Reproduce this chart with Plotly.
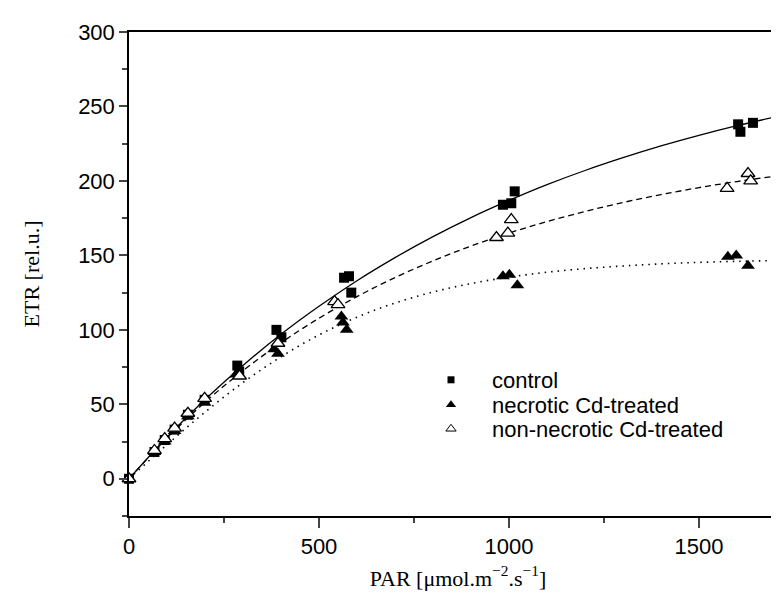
import plotly.graph_objects as go

# ---- data ----
control_par = [0, 67, 94, 120, 155, 199, 285, 290, 388, 401, 566, 579, 585, 984, 1006, 1015, 1603, 1609, 1642]
control_etr = [0, 18, 26, 33, 43, 53, 76, 72, 100, 95, 135, 136, 125, 184, 185, 193, 238, 233, 239]

necrotic_par = [0, 67, 94, 120, 155, 199, 282, 382, 392, 559, 563, 573, 984, 1001, 1022, 1576, 1598, 1629]
necrotic_etr = [0, 18, 25, 32, 42, 51, 70, 87, 84, 109, 105, 100, 136, 137, 130, 149, 150, 143]

nonnec_par = [0, 67, 94, 120, 155, 199, 291, 392, 541, 550, 967, 997, 1006, 1574, 1629, 1636]
nonnec_etr = [0, 19, 27, 34, 44, 54, 69, 91, 119, 117, 162, 165, 174, 195, 205, 200]

# fitted curves at regular PAR steps
curve_par = [0, 100, 200, 300, 400, 500, 600, 700, 800, 900, 1000, 1100, 1200,
             1300, 1400, 1500, 1600, 1700, 1750]
control_fit = [0, 27.9, 53.2, 76.1, 97.0, 115.8, 133.0, 148.5, 162.6, 175.4, 186.9,
               197.5, 207.0, 215.6, 223.5, 230.6, 237.1, 242.9, 245.6]
nonnec_fit = [0, 27.3, 51.4, 72.6, 91.3, 107.8, 122.3, 135.1, 146.3, 156.3, 165.0,
              172.7, 179.5, 185.5, 190.8, 195.5, 199.6, 203.2, 204.8]
necrotic_fit = [0, 22.9, 44.7, 64.6, 81.9, 96.6, 108.5, 118.0, 125.4, 131.1, 135.4,
                138.7, 141.1, 142.9, 144.3, 145.3, 146.0, 146.5, 146.7]

series_names = ["control", "necrotic Cd-treated", "non-necrotic Cd-treated"]
x_ticks = [0, 500, 1000, 1500]
y_ticks = [0, 50, 100, 150, 200, 250, 300]

fig = go.Figure()

# curves
fig.add_trace(go.Scatter(x=curve_par, y=control_fit, mode="lines", line_shape="spline",
                         line=dict(color="black", width=1.3, dash="solid"), showlegend=False, hoverinfo="skip"))
fig.add_trace(go.Scatter(x=curve_par, y=nonnec_fit, mode="lines", line_shape="spline",
                         line=dict(color="black", width=1.3, dash="6px,4px"), showlegend=False, hoverinfo="skip"))
fig.add_trace(go.Scatter(x=curve_par, y=necrotic_fit, mode="lines", line_shape="spline",
                         line=dict(color="black", width=1.6, dash="1.5px,5px"), showlegend=False, hoverinfo="skip"))

# data points
fig.add_trace(go.Scatter(x=control_par, y=control_etr, mode="markers", showlegend=False, cliponaxis=False,
                         marker=dict(symbol="square", size=10, color="black")))
fig.add_trace(go.Scatter(x=necrotic_par, y=necrotic_etr, mode="markers", showlegend=False, cliponaxis=False,
                         marker=dict(symbol="triangle-up", size=12, color="black")))
fig.add_trace(go.Scatter(x=nonnec_par, y=nonnec_etr, mode="markers", showlegend=False, cliponaxis=False,
                         marker=dict(symbol="triangle-up", size=12, color="white",
                                     line=dict(color="black", width=1.3))))

# legend entries (smaller symbols as in reference), one legend per row for exact spacing
fig.add_trace(go.Scatter(x=[None], y=[None], mode="markers", name=series_names[0], legend="legend",
                         marker=dict(symbol="square", size=7, color="black")))
fig.add_trace(go.Scatter(x=[None], y=[None], mode="markers", name=series_names[1], legend="legend2",
                         marker=dict(symbol="triangle-up", size=9, color="black")))
fig.add_trace(go.Scatter(x=[None], y=[None], mode="markers", name=series_names[2], legend="legend3",
                         marker=dict(symbol="triangle-up", size=9, color="white",
                                     line=dict(color="black", width=1))))

legend_font = dict(family="Liberation Sans, Arial, sans-serif", size=22, color="black")
legend_x = (402 - 121) / 658


def legend_at(ypx):
    return dict(x=legend_x, y=(508 - ypx) / 484, xanchor="left", yanchor="middle",
                bgcolor="rgba(0,0,0,0)", borderwidth=0, itemwidth=72, font=legend_font)


fig.update_layout(
    width=779, height=598,
    margin=dict(l=121, r=0, t=24, b=90, autoexpand=False),
    plot_bgcolor="white", paper_bgcolor="white",
    font=dict(family="Liberation Sans, Arial, sans-serif", size=21, color="black"),
    showlegend=True,
    legend=legend_at(372),
    legend2=legend_at(397),
    legend3=legend_at(421),
    xaxis=dict(range=[0, 1731.6], tickvals=x_ticks, ticks="outside", ticklen=10, tickwidth=1.5,
               showline=True, linewidth=1.5, linecolor="black", mirror=True, showgrid=False, zeroline=False,
               minor=dict(dtick=250, tick0=0, ticks="outside", ticklen=5, tickwidth=1.5),
               tickfont=dict(size=22), automargin=False,
               title=dict(text="PAR [μmol.m<sup>−2</sup>.s<sup>−1</sup>]", standoff=12,
                          font=dict(family="Liberation Serif, Times New Roman, serif", size=22))),
    yaxis=dict(range=[-25, 300], tickvals=y_ticks, ticks="outside", ticklen=8, tickwidth=1.5,
               showline=True, linewidth=1.5, linecolor="black", showgrid=False, zeroline=False,
               minor=dict(dtick=25, tick0=0, ticks="outside", ticklen=5, tickwidth=1.5),
               tickfont=dict(size=22), automargin=False,
               title=dict(text="ETR [rel.u.]", standoff=32,
                          font=dict(family="Liberation Serif, Times New Roman, serif", size=22))),
)

fig.write_html("out.html")
